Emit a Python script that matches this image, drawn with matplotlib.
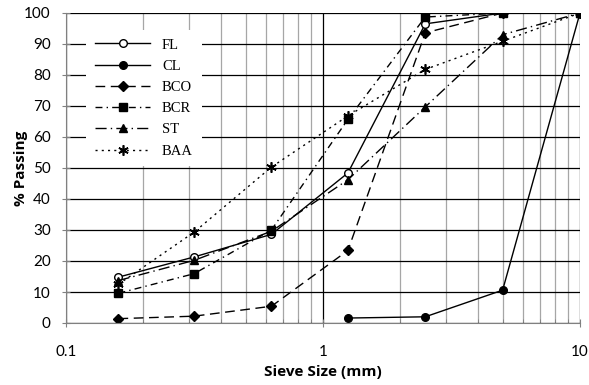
import numpy as np
import matplotlib.pyplot as plt
from matplotlib.ticker import LogLocator, FixedLocator, NullFormatter

# sieve sizes (mm) and percent passing for each material
sieve = [0.16, 0.315, 0.63, 1.25, 2.5, 5, 10]
fl = [14.8, 21.3, 28.6, 48.4, 96.5, 100, 100]
cl_sieve = [1.25, 2.5, 5, 10]
cl = [1.6, 2.0, 10.6, 100]
bco = [1.4, 2.2, 5.4, 23.4, 93.6, 100, 100]
bcr = [9.6, 15.9, 30.0, 65.7, 98.7, 100, 100]
st = [13.7, 20.2, 29.6, 46.2, 69.7, 93.0, 100]
baa = [12.5, 29.3, 50.3, 66.8, 81.8, 90.9, 100]

fig = plt.figure(figsize=(5.89, 3.85), dpi=100)
ax = fig.add_axes([66/589, 1 - 323/385, 514/589, 310/385])

ax.set_xscale('log')
ax.set_xlim(0.1, 10)
ax.set_ylim(0, 100)

# grid: black major lines, grey minor lines on x
ax.xaxis.set_minor_locator(LogLocator(base=10, subs=np.arange(2, 10)))
ax.xaxis.set_minor_formatter(NullFormatter())
ax.xaxis.set_major_locator(FixedLocator([0.1, 1, 10]))
ax.set_xticklabels(['0.1', '1', '10'])
ax.set_yticks(np.arange(0, 101, 10))
ax.grid(True, which='major', axis='y', color='black', lw=0.9)
ax.grid(True, which='major', axis='x', color='black', lw=0.9)
ax.grid(True, which='minor', axis='x', color='#a6a6a6', lw=0.9)
ax.set_axisbelow(True)

for s in ['top', 'right']:
    ax.spines[s].set_visible(False)
ax.spines['left'].set_color('#808080')
ax.spines['bottom'].set_color('#808080')
ax.tick_params(which='major', direction='inout', length=6, color='#808080',
               labelsize=11)
ax.tick_params(axis='x', which='major', pad=13)
ax.tick_params(axis='y', which='major', pad=8)
ax.tick_params(which='minor', direction='in', length=3, color='#808080')
for lab in ax.get_xticklabels() + ax.get_yticklabels():
    lab.set_family('Lato')

lw = 1.0
ms = 5.5
ax.plot(sieve, fl, color='black', lw=lw, ls='-', marker='o', mfc='white',
        mec='black', ms=ms, label='FL')
ax.plot(cl_sieve, cl, color='black', lw=lw, ls='-', marker='o', ms=ms,
        label='CL')
ax.plot(sieve, bco, color='black', lw=lw, ls=(0, (7, 4)), marker='D',
        ms=ms - 0.8, label='BCO')
ax.plot(sieve, bcr, color='black', lw=lw, ls=(0, (5, 3, 1, 3)), marker='s',
        ms=ms, label='BCR')
ax.plot(sieve, st, color='black', lw=lw, ls=(0, (8, 3, 1, 3)), marker='^',
        ms=ms + 0.5, label='ST')
ax.plot(sieve, baa, color='black', lw=lw, ls=(0, (1.5, 3)), marker=(6, 2, 0),
        mew=1.2, ms=ms + 2, label='BAA')

leg = ax.legend(loc='upper left', bbox_to_anchor=(0.025, 0.97),
                frameon=True, fancybox=False, framealpha=1,
                handlelength=3.8, labelspacing=0.55, borderpad=0.6,
                prop={'family': 'Liberation Serif', 'size': 10.5})
leg.get_frame().set_edgecolor('white')
leg.get_frame().set_linewidth(0)

ax.set_xlabel('Sieve Size (mm)', family='Open Sans', fontweight='bold',
              fontsize=11, labelpad=4)
ax.set_ylabel('% Passing', family='Open Sans', fontweight='bold',
              fontsize=11, labelpad=-3)

fig.savefig('out.png', dpi=100)
